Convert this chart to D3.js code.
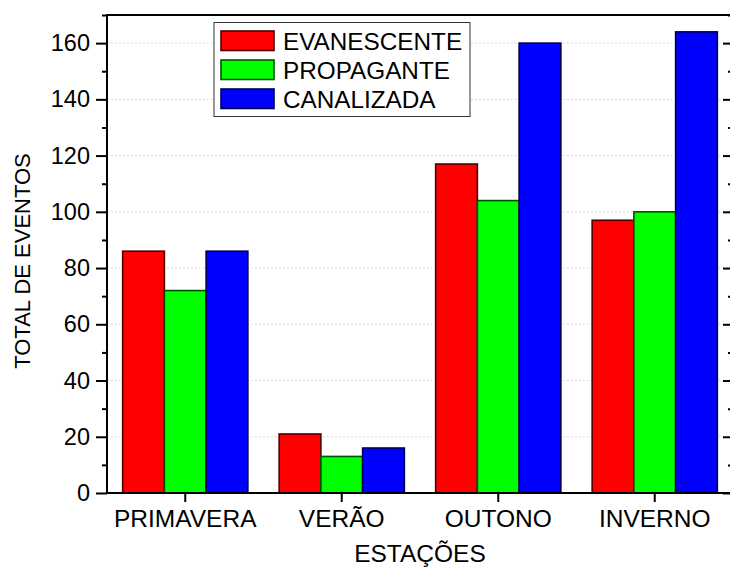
<!DOCTYPE html>
<html>
<head>
<meta charset="utf-8">
<script src="https://cdn.jsdelivr.net/npm/d3@7"></script>
<style>
html,body{margin:0;padding:0;background:#fff;}
svg{display:block;font-family:"Liberation Sans",Arial,sans-serif;}
</style>
</head>
<body>
<svg id="chart" width="730" height="570"></svg>
<script>
const categories = ["PRIMAVERA", "VERÃO", "OUTONO", "INVERNO"];
const seriesNames = ["EVANESCENTE", "PROPAGANTE", "CANALIZADA"];
const evanescente = [86, 21, 117, 97];
const propagante = [72, 13, 104, 100];
const canalizada = [86, 16, 160, 164];
const seriesColors = ["#ff0000", "#00ff00", "#0000ff"];
const yTicks = [0, 20, 40, 60, 80, 100, 120, 140, 160];
const yMinorTicks = [10, 30, 50, 70, 90, 110, 130, 150, 170];
const xTitle = "ESTAÇÕES";
const yTitle = "TOTAL DE EVENTOS";

const seriesValues = [evanescente, propagante, canalizada];

const svg = d3.select("#chart");
const L = 107, R = 733, T = 15, B = 493;

const x = d3.scaleBand().domain(categories).range([L, R]).paddingInner(0.2).paddingOuter(0.1);
const xs = d3.scaleBand().domain(seriesNames).range([0, x.bandwidth()]).padding(0);
const y = d3.scaleLinear().domain([0, 170]).range([B, T]);

// gridlines
svg.append("g").selectAll("line").data(yTicks.filter(d => d > 0)).join("line")
  .attr("x1", L).attr("x2", R).attr("y1", d => y(d)).attr("y2", d => y(d))
  .attr("stroke", "#d0d0d0").attr("stroke-width", 1).attr("stroke-dasharray", "1.5,2.5");

// bars
const groups = svg.append("g").selectAll("g").data(categories).join("g")
  .attr("transform", d => `translate(${x(d)},0)`);
groups.selectAll("rect").data((c, ci) => seriesNames.map((s, si) => ({s, si, v: seriesValues[si][ci]}))).join("rect")
  .attr("x", d => xs(d.s)).attr("width", xs.bandwidth())
  .attr("y", d => y(d.v)).attr("height", d => y(0) - y(d.v))
  .attr("fill", d => seriesColors[d.si])
  .attr("stroke", d => d3.color(seriesColors[d.si]).darker(3.2))
  .attr("stroke-width", 1.6);

// left axis
const yAxis = d3.axisLeft(y).tickValues(yTicks).tickSize(11).tickPadding(6).tickFormat(d3.format("d"));
const gy = svg.append("g").attr("transform", `translate(${L},0)`).call(yAxis);
gy.select(".domain").remove();
gy.selectAll(".tick line").attr("stroke", "#000").attr("stroke-width", 2);
gy.selectAll(".tick text").attr("font-size", 23.5).attr("fill", "#000").attr("font-family", "Liberation Sans, Arial, sans-serif");
const yAxisMinor = d3.axisLeft(y).tickValues(yMinorTicks).tickSize(5).tickFormat("");
const gym = svg.append("g").attr("transform", `translate(${L},0)`).call(yAxisMinor);
gym.select(".domain").remove();
gym.selectAll(".tick line").attr("stroke", "#000").attr("stroke-width", 2);

// right axis (ticks inward)
const yAxisR = d3.axisLeft(y).tickValues(yTicks).tickSize(10).tickFormat("");
const gr = svg.append("g").attr("transform", `translate(${R},0)`).call(yAxisR);
gr.select(".domain").remove();
gr.selectAll(".tick line").attr("stroke", "#000").attr("stroke-width", 2);
const yAxisRm = d3.axisLeft(y).tickValues(yMinorTicks).tickSize(5).tickFormat("");
const grm = svg.append("g").attr("transform", `translate(${R},0)`).call(yAxisRm);
grm.select(".domain").remove();
grm.selectAll(".tick line").attr("stroke", "#000").attr("stroke-width", 2);

// bottom axis
const xAxis = d3.axisBottom(x).tickSize(9).tickPadding(8);
const gx = svg.append("g").attr("transform", `translate(0,${B})`).call(xAxis);
gx.select(".domain").remove();
gx.selectAll(".tick line").attr("stroke", "#000").attr("stroke-width", 2);
gx.selectAll(".tick text").attr("font-size", 24.5).attr("fill", "#000").attr("font-family", "Liberation Sans, Arial, sans-serif");

// frame
svg.append("line").attr("x1", L).attr("x2", L).attr("y1", T - 1).attr("y2", B + 1).attr("stroke", "#000").attr("stroke-width", 2);
svg.append("line").attr("x1", L - 1).attr("x2", R).attr("y1", B).attr("y2", B).attr("stroke", "#000").attr("stroke-width", 2);
svg.append("line").attr("x1", L - 1).attr("x2", R).attr("y1", T).attr("y2", T).attr("stroke", "#000").attr("stroke-width", 2);
svg.append("line").attr("x1", R).attr("x2", R).attr("y1", T).attr("y2", B).attr("stroke", "#000").attr("stroke-width", 2);

// titles
svg.append("text").attr("x", 420).attr("y", 562).attr("text-anchor", "middle")
  .attr("font-size", 24.5).attr("fill", "#000").text(xTitle);
svg.append("text").attr("transform", `translate(30,261) rotate(-90)`).attr("text-anchor", "middle")
  .attr("font-size", 22).attr("fill", "#000").text(yTitle);

// legend
const lg = svg.append("g");
lg.append("rect").attr("x", 214).attr("y", 22.5).attr("width", 256).attr("height", 94)
  .attr("fill", "#fff").attr("stroke", "#333").attr("stroke-width", 1);
const rows = lg.selectAll("g.row").data(seriesNames).join("g").attr("class", "row")
  .attr("transform", (d, i) => `translate(221,${31 + i * 29})`);
rows.append("rect").attr("width", 53).attr("height", 19.5)
  .attr("fill", (d, i) => seriesColors[i])
  .attr("stroke", (d, i) => d3.color(seriesColors[i]).darker(3.2)).attr("stroke-width", 1.6);
rows.append("text").attr("x", 62).attr("y", 18.5).attr("font-size", 24.3).attr("fill", "#000").text(d => d);
</script>
</body>
</html>
